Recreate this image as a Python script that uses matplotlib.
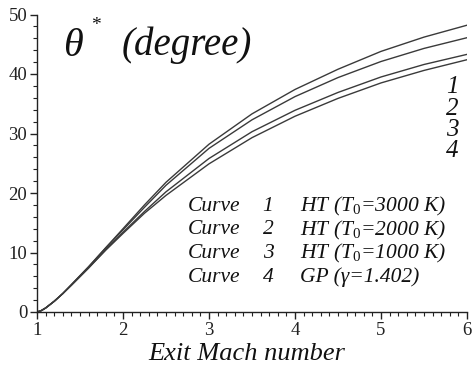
import matplotlib
matplotlib.use("Agg")
import matplotlib.pyplot as plt
from matplotlib.ticker import MultipleLocator

plt.rcParams['font.family'] = ['Liberation Serif', 'DejaVu Serif']
plt.rcParams['mathtext.fontset'] = 'custom'
plt.rcParams['mathtext.rm'] = 'Liberation Serif'
plt.rcParams['mathtext.it'] = 'Liberation Serif:italic'

mach = [1.0, 1.05, 1.1, 1.2, 1.3, 1.4, 1.6, 1.8, 2.0, 2.25, 2.5, 3.0, 3.5, 4.0, 4.5, 5.0, 5.5, 6.0]
curve1 = [0, 0.24, 0.67, 1.8, 3.1, 4.6, 7.6, 10.8, 14.0, 18.0, 21.8, 28.2, 33.3, 37.4, 40.8, 43.8, 46.2, 48.2]
curve2 = [0, 0.24, 0.67, 1.8, 3.1, 4.6, 7.6, 10.8, 13.8, 17.6, 21.3, 27.5, 32.3, 36.2, 39.4, 42.1, 44.3, 46.1]
curve3 = [0, 0.24, 0.67, 1.8, 3.1, 4.5, 7.4, 10.5, 13.4, 16.9, 20.2, 25.8, 30.3, 33.9, 36.9, 39.5, 41.6, 43.3]
curve4 = [0, 0.24, 0.67, 1.8, 3.1, 4.5, 7.4, 10.4, 13.2, 16.6, 19.6, 24.9, 29.3, 32.9, 35.9, 38.5, 40.6, 42.4]
curve_ids = ['1', '2', '3', '4']
legend_labels = ['HT (T$_0$=3000 K)', 'HT (T$_0$=2000 K)', 'HT (T$_0$=1000 K)', 'GP (γ=1.402)']

W, H = 472, 368
fig = plt.figure(figsize=(W / 100, H / 100), dpi=100)
ax = fig.add_axes([37 / W, (H - 312) / H, (467 - 37) / W, (312 - 14.5) / H])

lc = '#3a3a3a'
for c in (curve1, curve2, curve3, curve4):
    ax.plot(mach, c, color=lc, lw=1.0)

ax.set_xlim(1, 6)
ax.set_ylim(0, 50)
ax.spines['top'].set_visible(False)
ax.spines['right'].set_visible(False)
for s in ('left', 'bottom'):
    ax.spines[s].set_linewidth(1.0)
    ax.spines[s].set_color('#222222')
ax.xaxis.set_major_locator(MultipleLocator(1))
ax.xaxis.set_minor_locator(MultipleLocator(0.1))
ax.yaxis.set_major_locator(MultipleLocator(10))
ax.yaxis.set_minor_locator(MultipleLocator(2))
ax.tick_params(axis='both', which='major', direction='out', length=5, width=1, labelsize=13.5, colors='#222222', pad=2)
ax.tick_params(axis='both', which='minor', direction='out', length=3, width=0.8, colors='#222222')

fig.text(247 / W, 1 - 354 / H, 'Exit Mach number', fontsize=19, style='italic', ha='center', va='center', color='#111111')

# Y label inside the plot
fig.text(63 / W, 1 - 56 / H, 'θ', fontsize=29, style='italic', ha='left', va='baseline', color='#111111')
fig.text(91 / W, 1 - 30 / H, '*', fontsize=14, ha='left', va='baseline', color='#111111')
fig.text(122 / W, 1 - 55 / H, '(degree)', fontsize=28, style='italic', ha='left', va='baseline', color='#111111')

# curve numbers at the right
for cid, yp in zip(curve_ids, [87, 109, 130, 151]):
    fig.text(452 / W, 1 - yp / H, cid, fontsize=18, style='italic', ha='center', va='center', color='#111111')

# legend text block
for cid, lab, yp in zip(curve_ids, legend_labels, [206, 230, 253, 277]):
    fig.text(188 / W, 1 - yp / H, 'Curve', fontsize=15.5, style='italic', ha='left', va='center', color='#111111')
    fig.text(268 / W, 1 - yp / H, cid, fontsize=15.5, style='italic', ha='center', va='center', color='#111111')
    fig.text(300 / W, 1 - yp / H, lab, fontsize=15.5, style='italic', ha='left', va='center', color='#111111')

fig.savefig('out.png', dpi=100)
